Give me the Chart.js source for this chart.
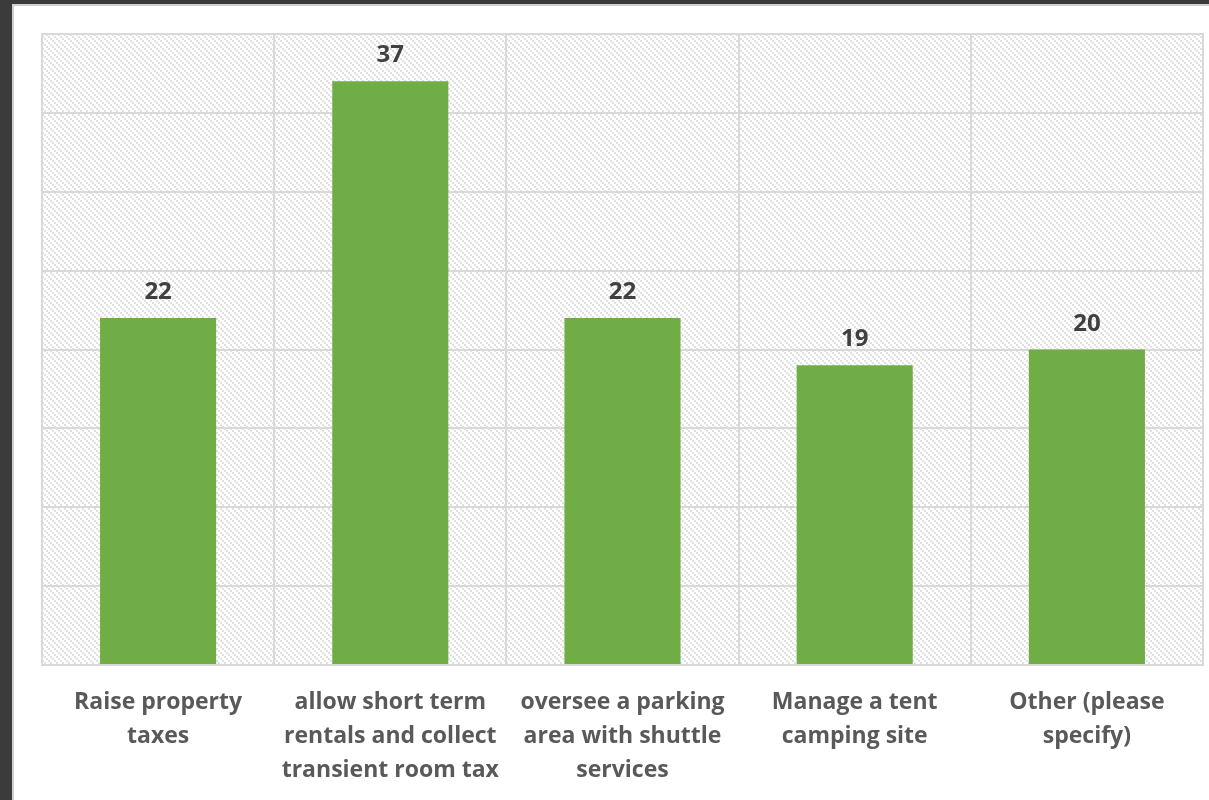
<!DOCTYPE html>
<html>
<head>
<meta charset="utf-8">
<script src="https://cdn.jsdelivr.net/npm/chart.js@4"></script>
<style>
html,body{margin:0;padding:0;background:#3b3b3b;}
#wrap{position:absolute;left:0;top:0;width:1209px;height:800px;}
</style>
</head>
<body>
<div id="wrap"><canvas id="c" width="1209" height="800"></canvas></div>
<script>
const categories = [
  ["Raise property", "taxes"],
  ["allow short term", "rentals and collect", "transient room tax"],
  ["oversee a parking", "area with shuttle", "services"],
  ["Manage a tent", "camping site"],
  ["Other (please", "specify)"]
];
const values = [22, 37, 22, 19, 20];
const yMin = 0, yMax = 40, yStep = 5;

const FONT = '"Open Sans", Lato, sans-serif';

function makePattern(ctx) {
  const t = document.createElement('canvas');
  t.width = 6; t.height = 6;
  const g = t.getContext('2d');
  g.fillStyle = '#ffffff';
  g.fillRect(0, 0, 6, 6);
  g.fillStyle = '#e0e0e0';
  for (let i = 0; i < 6; i += 2) {
    g.fillRect(i, i, 2, 2);
  }
  return ctx.createPattern(t, 'repeat');
}

const framePlugin = {
  id: 'frame',
  beforeDraw(chart) {
    const ctx = chart.ctx;
    const W = chart.width, H = chart.height;
    ctx.save();
    ctx.fillStyle = '#3b3b3b';
    ctx.fillRect(0, 0, W, H);
    ctx.fillStyle = '#d0d0d0';
    ctx.fillRect(12, 4, W - 12, H - 4);
    ctx.fillStyle = '#ffffff';
    ctx.fillRect(14, 6, W - 14, H - 6);
    const a = chart.chartArea;
    ctx.fillStyle = makePattern(ctx);
    ctx.fillRect(a.left, a.top, a.right - a.left, a.bottom - a.top);
    ctx.restore();
  },
  afterDraw(chart) {
    const ctx = chart.ctx, a = chart.chartArea;
    ctx.save();
    ctx.strokeStyle = '#d9d9d9';
    ctx.lineWidth = 2;
    ctx.strokeRect(a.left, a.top, a.right - a.left, a.bottom - a.top);
    ctx.restore();
  }
};

const labelPlugin = {
  id: 'vals',
  afterDatasetsDraw(chart) {
    const ctx = chart.ctx;
    const meta = chart.getDatasetMeta(0);
    ctx.save();
    ctx.fillStyle = '#404040';
    ctx.font = 'bold 24px ' + FONT;
    ctx.textAlign = 'center';
    ctx.textBaseline = 'alphabetic';
    meta.data.forEach((bar, i) => {
      ctx.fillText(String(values[i]), bar.x, bar.y - 19);
    });
    ctx.restore();
  }
};

new Chart(document.getElementById('c'), {
  type: 'bar',
  data: {
    labels: categories,
    datasets: [{
      data: values,
      backgroundColor: '#70ad47',
      borderWidth: 0,
      barPercentage: 0.5,
      categoryPercentage: 1.0
    }]
  },
  options: {
    responsive: false,
    animation: false,
    devicePixelRatio: 1,
    layout: { padding: { left: 42, top: 34, right: 6, bottom: 0 } },
    plugins: { legend: { display: false }, tooltip: { enabled: false } },
    scales: {
      x: {
        offset: true,
        grid: { display: true, offset: true, color: '#d9d9d9', lineWidth: 2, drawTicks: false },
        border: { display: true, color: '#d9d9d9', width: 2 },
        ticks: {
          color: '#595959',
          font: { family: FONT, size: 23, weight: 'bold', lineHeight: 1.48 },
          padding: 20,
          maxRotation: 0,
          autoSkip: false
        },
        afterFit(s) { s.height = 135; }
      },
      y: {
        min: yMin, max: yMax,
        ticks: { display: false, stepSize: yStep },
        grid: { color: '#d9d9d9', lineWidth: 2, drawTicks: false },
        border: { display: true, color: '#d9d9d9', width: 2 },
        afterFit(s) { s.width = 0; }
      }
    }
  },
  plugins: [framePlugin, labelPlugin]
});
</script>
</body>
</html>
